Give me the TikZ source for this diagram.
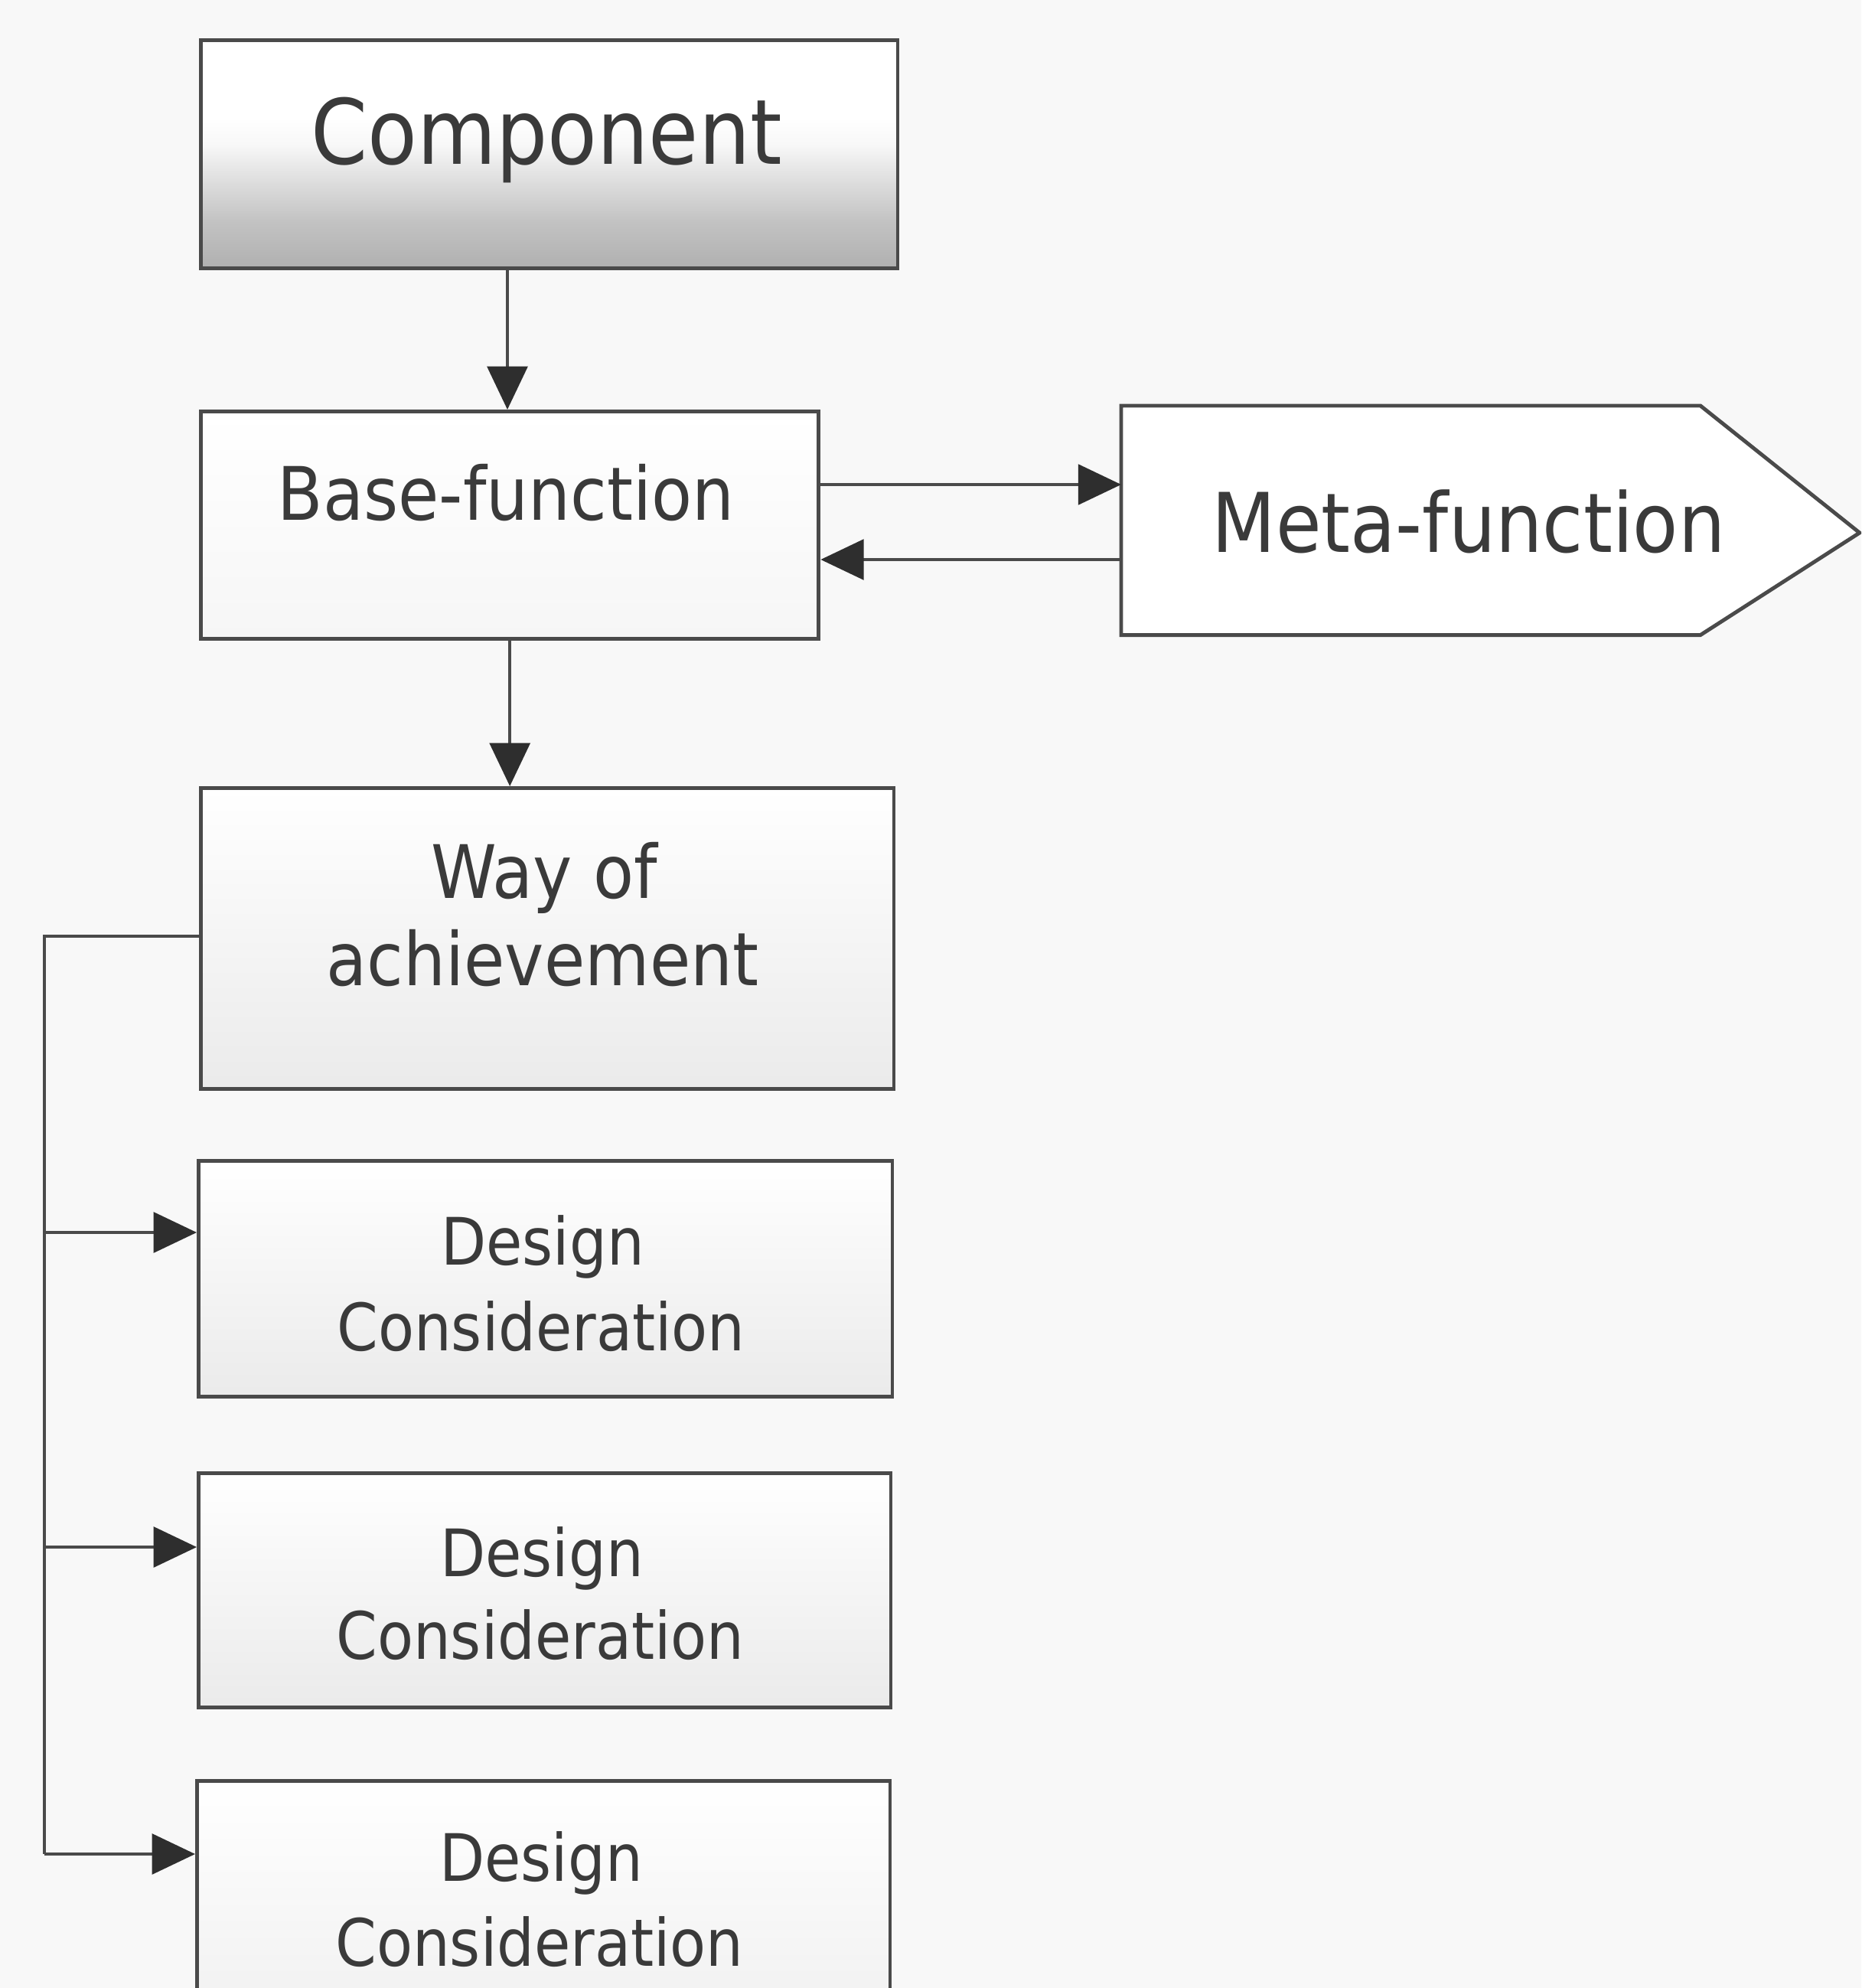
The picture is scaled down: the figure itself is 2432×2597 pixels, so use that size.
\documentclass[tikz,border=0pt]{standalone}
\usepackage{fontspec}
\setmainfont{DejaVu Sans}[FakeStretch=0.9]
\usetikzlibrary{arrows.meta}
\definecolor{ink}{HTML}{4A4A4A}
\definecolor{txt}{HTML}{3A3A3A}
\definecolor{tipc}{HTML}{2E2E2E}
\definecolor{paper}{HTML}{F8F8F8}
\newcommand\txtsz[1]{\fontsize{#1}{#1}\selectfont}
% white upper half fading into grey towards the bottom edge
\pgfdeclareverticalshading{compshade}{100bp}{%
  color(0bp)=(gray!62); color(25bp)=(gray!62); color(35bp)=(gray!48);
  color(45bp)=(gray!24); color(52bp)=(gray!6); color(58bp)=(white);
  color(75bp)=(white); color(100bp)=(white)}
\begin{document}
\begin{tikzpicture}[x=0.01cm,y=-0.01cm,
  box/.style={draw=ink, line width=1.4pt, rectangle, inner sep=0pt, anchor=north west},
  lbl/.style={text=txt, inner sep=0pt, anchor=base},
  conn/.style={draw=ink, line width=1pt,
    -{Triangle[length=16pt,width=15pt,fill=tipc,color=tipc]}},
  plain/.style={draw=ink, line width=1pt}]
\useasboundingbox (0,0) rectangle (2432,2597);
\fill[paper] (0,0) rectangle (2432,2597);
\clip (0,0) rectangle (2432,2597);

% boxes
\node[box, minimum width=9.10cm, minimum height=2.98cm,
  shading=compshade] (comp) at (260,50) {};
\node[box, minimum width=8.07cm, minimum height=2.97cm,
  top color=white, bottom color=gray!7] (base) at (260,535) {};
\node[box, minimum width=9.05cm, minimum height=3.93cm,
  top color=white, middle color=gray!4, bottom color=gray!16] (way) at (260,1027) {};
\node[box, minimum width=9.06cm, minimum height=3.08cm,
  top color=white, middle color=gray!4, bottom color=gray!16] (dc1) at (257,1514) {};
\node[box, minimum width=9.04cm, minimum height=3.06cm,
  top color=white, middle color=gray!4, bottom color=gray!16] (dc2) at (257,1922) {};
\node[box, minimum width=9.05cm, minimum height=3.30cm,
  top color=white, middle color=gray!3, bottom color=gray!12] (dc3) at (255,2324) {};

% pentagon for the meta-function
\node[rectangle, inner sep=0pt, anchor=north west, minimum width=7.55cm,
  minimum height=2.98cm] (meta) at (1465,530) {};
\draw[ink, line width=1.4pt, fill=white, line join=miter]
  (meta.north west) -- (meta.north east) -- ++(208,166) -- (meta.south east)
  -- (meta.south west) -- cycle;

% labels
\node[lbl, font=\txtsz{33.5}] (compT) at (714,215) {Component};
\node[lbl, font=\txtsz{27.4}] (baseT) at (661,679) {Base-function};
\node[lbl, font=\txtsz{30.6}] (metaT) at (1919,721) {Meta-function};
\node[lbl, font=\txtsz{27.4}] (wayT1) at (711,1173) {Way of};
\node[lbl, font=\txtsz{27.4}] (wayT2) at (709,1287) {achievement};
\node[lbl, font=\txtsz{24.3}] (dc1T1) at (709,1652) {Design};
\node[lbl, font=\txtsz{24.3}] (dc1T2) at (707,1764) {Consideration};
\node[lbl, font=\txtsz{24.3}] (dc2T1) at (708,2059) {Design};
\node[lbl, font=\txtsz{24.3}] (dc2T2) at (706,2167) {Consideration};
\node[lbl, font=\txtsz{24.3}] (dc3T1) at (707,2457) {Design};
\node[lbl, font=\txtsz{24.3}] (dc3T2) at (705,2568) {Consideration};

% junction points
\coordinate (cin) at (663,348);
\coordinate (mIn) at (1465,633);
\coordinate (mOut) at (1465,731);
\coordinate (spine) at (58,1223);
\coordinate (j1) at (58,1610);
\coordinate (j2) at (58,2021);
\coordinate (j3) at (58,2422);

% connectors
\draw[conn] (cin) -- (cin |- base.north);
\draw[conn] (base.south) -- (base.south |- way.north);
\draw[conn] (base.east |- mIn) -- (mIn);
\draw[conn] (mOut) -- (mOut -| base.east);
\draw[plain] (way.west |- spine) -- (spine) -- (j3);
\draw[conn] (j1) -- (j1 -| dc1.west);
\draw[conn] (j2) -- (j2 -| dc2.west);
\draw[conn] (j3) -- (j3 -| dc3.west);
\end{tikzpicture}
\end{document}
